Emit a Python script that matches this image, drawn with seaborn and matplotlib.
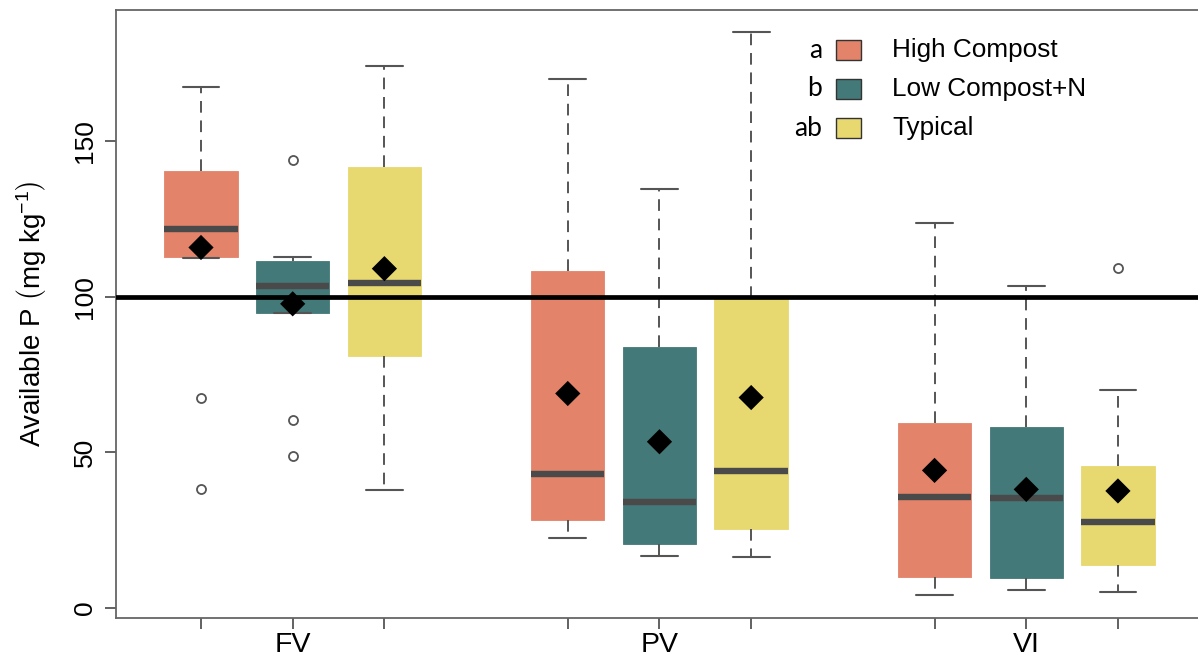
import matplotlib
matplotlib.use("Agg")
import matplotlib.pyplot as plt
from matplotlib.patches import Rectangle
import seaborn as sns
import pandas as pd

# ---------------- data ----------------
sites = ["FV", "PV", "VI"]
treatments = ["High Compost", "Low Compost+N", "Typical"]
letters = ["a", "b", "ab"]

hc_whislo = [112.5, 22.6, 4.1]
hc_q1 = [112.6, 28.4, 10.1]
hc_med = [121.6, 43.2, 35.5]
hc_q3 = [140.5, 108.1, 59.3]
hc_whishi = [167.2, 169.9, 123.6]
hc_mean = [115.8, 68.9, 44.2]
hc_fliers = [[67.6, 38.1], [], []]

lc_whislo = [94.7, 16.6, 5.7]
lc_q1 = [94.7, 20.7, 9.5]
lc_med = [103.5, 33.9, 35.4]
lc_q3 = [111.5, 83.8, 58.1]
lc_whishi = [112.6, 134.5, 103.4]
lc_mean = [97.7, 53.4, 38.1]
lc_fliers = [[144.0, 60.3, 48.9], [], []]

ty_whislo = [37.8, 16.5, 5.1]
ty_q1 = [81.1, 25.4, 13.8]
ty_med = [104.3, 43.9, 27.7]
ty_q3 = [141.6, 99.6, 45.5]
ty_whishi = [174.0, 184.9, 69.9]
ty_mean = [109.0, 67.6, 37.6]
ty_fliers = [[], [], [109.2]]

reference_line = 100
y_ticks = [0, 50, 100, 150]

colors = ["#E2836A", "#437978", "#E8D870"]

# ---------------- build tables ----------------
series = [
    (hc_whislo, hc_q1, hc_med, hc_q3, hc_whishi, hc_mean, hc_fliers),
    (lc_whislo, lc_q1, lc_med, lc_q3, lc_whishi, lc_mean, lc_fliers),
    (ty_whislo, ty_q1, ty_med, ty_q3, ty_whishi, ty_mean, ty_fliers),
]

rows = []
for t, (wlo, q1, med, q3, whi, mean, fl) in enumerate(series):
    for g, site in enumerate(sites):
        rows.append(dict(site=site, treatment=treatments[t], t=t,
                         pos=1 + 4 * g + t,
                         whislo=wlo[g], q1=q1[g], med=med[g], q3=q3[g],
                         whishi=whi[g], mean=mean[g], fliers=fl[g]))
df = pd.DataFrame(rows).sort_values("pos").reset_index(drop=True)

# ---------------- style ----------------
sns.set_style("ticks")
plt.rcParams["font.family"] = ["Liberation Sans", "DejaVu Sans"]
plt.rcParams["mathtext.fontset"] = "custom"
plt.rcParams["mathtext.rm"] = "Liberation Sans"
plt.rcParams["mathtext.it"] = "Liberation Sans"
plt.rcParams["mathtext.default"] = "regular"
plt.rcParams["text.color"] = "black"
plt.rcParams["axes.labelcolor"] = "black"
plt.rcParams["xtick.labelcolor"] = "black"
plt.rcParams["ytick.labelcolor"] = "black"

fig = plt.figure(figsize=(11.98, 6.60), dpi=100)
ax = fig.add_axes([116 / 1198, 42 / 660, 1 - 116 / 1198, 608 / 660])

gray = "#555555"
for t in range(3):
    sub = df[df["t"] == t]
    stats = [dict(whislo=r.whislo, q1=r.q1, med=r.med, q3=r.q3,
                  whishi=r.whishi, fliers=r.fliers, label=r.site)
             for r in sub.itertuples()]
    ax.bxp(stats, positions=list(sub["pos"]), widths=0.8, capwidths=0.4,
           patch_artist=True, showfliers=True, manage_ticks=False,
           boxprops=dict(facecolor=colors[t], edgecolor=colors[t], linewidth=0.6),
           medianprops=dict(color="#4A4A4A", linewidth=4.6, solid_capstyle="butt"),
           whiskerprops=dict(color=gray, linewidth=1.4, linestyle=(0, (6, 4))),
           capprops=dict(color=gray, linewidth=1.5),
           flierprops=dict(marker="o", markerfacecolor="none",
                           markeredgecolor=gray, markersize=6.5,
                           markeredgewidth=1.3),
           zorder=2)

ax.axhline(reference_line, color="black", linewidth=3.4, zorder=3)

sns.scatterplot(data=df, x="pos", y="mean", marker="D", color="black",
                s=165, edgecolor="none", ax=ax, zorder=4, legend=False)

# ---------------- axes ----------------
ax.set_xlim(0.073, 11.873)
ax.set_ylim(-3.21, 192.08)
ax.set_xticks(list(df["pos"]))
ax.set_xticklabels([s if t == 1 else "" for s, t in zip(df["site"], df["t"])])
ax.set_yticks(y_ticks)
ax.set_yticklabels([str(v) for v in y_ticks], rotation=90, va="center")
ax.tick_params(axis="both", color=gray, width=1.3, length=8, direction="out")
ax.tick_params(axis="x", pad=2, labelsize=20.5)
ax.tick_params(axis="y", pad=6, labelsize=19)
ax.set_xlabel("")
ax.set_ylabel(r"Available P $\left(\mathrm{mg\ kg^{-1}}\right)$", fontsize=20)
ax.yaxis.set_label_coords(-0.079, 0.5)
ax.yaxis.label.set_va("center")

for side in ["left", "bottom", "top"]:
    ax.spines[side].set_visible(True)
    ax.spines[side].set_color("#666666")
    ax.spines[side].set_linewidth(1.3)
ax.spines["right"].set_visible(False)

# ---------------- legend (drawn manually, R style) ----------------
row_y = [50, 89, 128]
for t in range(3):
    fy = (618 - row_y[t]) / 608
    ax.text((822 - 116) / 1082, fy, letters[t], transform=ax.transAxes,
            ha="right", va="center", fontsize=19, family=["Lato", "DejaVu Sans"])
    ax.add_patch(Rectangle(((836 - 116) / 1082, fy - 10 / 608), 25 / 1082, 20 / 608,
                           transform=ax.transAxes, facecolor=colors[t],
                           edgecolor="#333333", linewidth=1.0, clip_on=False,
                           zorder=5))
    ax.text((892 - 116) / 1082, fy, treatments[t], transform=ax.transAxes,
            ha="left", va="center", fontsize=18.8)

fig.savefig("out.png", dpi=100)
